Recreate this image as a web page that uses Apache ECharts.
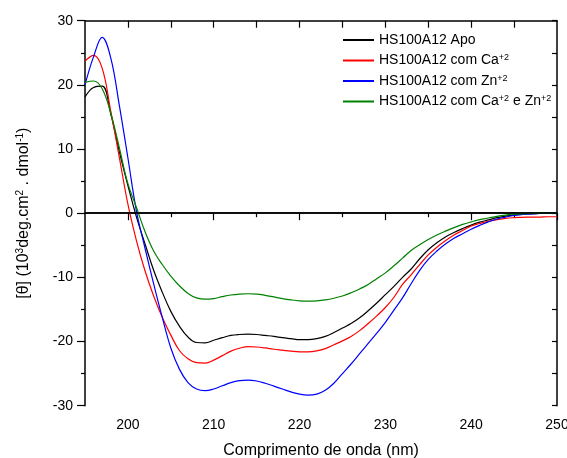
<!DOCTYPE html>
<html>
<head>
<meta charset="utf-8">
<script src="https://cdn.jsdelivr.net/npm/echarts@6/dist/echarts.min.js"></script>
<style>
html,body{margin:0;padding:0;background:#fff;}
#chart{width:567px;height:458px;}
</style>
</head>
<body>
<div id="chart"></div>
<script>
// Wavelengths (nm)
var wavelengths = [195,196,197,198,199,200,201,202,203,204,205,206,207,208,209,210,211,212,213,214,215,216,217,218,219,220,221,222,223,224,225,226,227,228,229,230,231,232,233,234,235,236,237,238,239,240,241,242,243,244,245,246,247,248,249,250];

// Series values ([θ] in 10^3 deg.cm2.dmol-1)
var apo = [18.1,19.6,19.8,15.5,9.6,4.3,-0.6,-4.8,-8.9,-12.3,-15.3,-17.6,-19.3,-20.15,-20.2,-19.8,-19.4,-19.05,-18.9,-18.85,-18.9,-19.05,-19.2,-19.4,-19.55,-19.7,-19.7,-19.55,-19.2,-18.6,-17.9,-17.2,-16.3,-15.2,-14.0,-12.7,-11.4,-10.0,-8.7,-7.1,-5.7,-4.6,-3.7,-3.0,-2.4,-1.85,-1.4,-1.05,-0.7,-0.45,-0.25,-0.15,-0.1,-0.05,0,0];
var ca = [23.7,24.6,22.6,15.9,8.7,1.4,-4.3,-9.0,-12.9,-16.2,-19.0,-21.4,-22.7,-23.3,-23.35,-22.9,-22.2,-21.5,-21.05,-20.8,-20.85,-21.0,-21.2,-21.35,-21.5,-21.6,-21.6,-21.45,-21.1,-20.5,-19.9,-19.2,-18.3,-17.2,-16.0,-14.7,-13.1,-11.1,-9.6,-8.0,-6.5,-5.3,-4.3,-3.4,-2.7,-2.0,-1.6,-1.25,-1.0,-0.8,-0.7,-0.65,-0.6,-0.6,-0.55,-0.55];
var zn = [20.0,24.4,27.4,24.2,16.8,8.6,0.3,-5.5,-11.0,-16.2,-21.0,-24.3,-26.4,-27.4,-27.65,-27.4,-26.9,-26.4,-26.1,-26.0,-26.15,-26.5,-26.95,-27.4,-27.85,-28.2,-28.35,-28.2,-27.6,-26.5,-25.0,-23.5,-21.9,-20.3,-18.7,-17.0,-15.1,-13.2,-11.0,-8.9,-7.2,-5.9,-4.8,-3.9,-3.2,-2.5,-1.9,-1.35,-0.9,-0.6,-0.35,-0.2,-0.1,-0.05,0,0];
var caZn = [20.4,20.6,19.4,15.6,10.2,4.6,0.9,-2.9,-5.9,-8.0,-9.8,-11.3,-12.5,-13.2,-13.4,-13.3,-13.0,-12.75,-12.6,-12.55,-12.6,-12.8,-13.05,-13.3,-13.5,-13.65,-13.7,-13.65,-13.5,-13.25,-12.9,-12.4,-11.8,-11.1,-10.2,-9.3,-8.2,-7.0,-5.8,-4.9,-4.1,-3.4,-2.8,-2.25,-1.75,-1.35,-1.0,-0.75,-0.5,-0.3,-0.15,-0.1,-0.05,0,0,0];

// Names and legend labels
var seriesNames = ['HS100A12 Apo','HS100A12 com Ca+2','HS100A12 com Zn+2','HS100A12 com Ca+2 e Zn+2'];
var legendLabels = ['HS100A12 Apo','HS100A12 com Ca{sup|+2}','HS100A12 com Zn{sup|+2}','HS100A12 com Ca{sup|+2} e Zn{sup|+2}'];
var seriesColors = ['#000000','#ff0000','#0000ff','#008000'];

// Tick values
var xMajorTicks = [200,210,220,230,240,250];
var xMinorTicks = [205,215,225,235,245];
var xTopTicks = [200,205,210,215,220,225,230,235,240,245];

var FONT = "'Liberation Sans', Arial, Helvetica, sans-serif";

function pairs(vals){
  return wavelengths.map(function(w,i){ return [w, vals[i]]; });
}
var allVals = [apo, ca, zn, caZn];

var series = allVals.map(function(v, i){
  var s = {
    name: seriesNames[i],
    type: 'line',
    data: pairs(v),
    xAxisIndex: 0,
    yAxisIndex: 0,
    symbol: 'none',
    smooth: 0.4,
    lineStyle: {color: seriesColors[i], width: 1.2},
    itemStyle: {color: seriesColors[i]},
    z: 3
  };
  if (i === 0) {
    s.markLine = {
      silent: true,
      symbol: ['none','none'],
      label: {show: false},
      lineStyle: {color: '#000', width: 1.5, type: 'solid'},
      data: [{yAxis: 0}],
      animation: false
    };
  }
  return s;
});

var chart = echarts.init(document.getElementById('chart'));
chart.setOption({
  animation: false,
  backgroundColor: '#ffffff',
  grid: {left: 85, right: 10, top: 20.7, bottom: 52.3, containLabel: false, outerBoundsMode: 'none'},
  legend: {
    orient: 'vertical',
    left: 342,
    top: 33,
    padding: 0,
    itemWidth: 31,
    itemHeight: 14,
    itemGap: 6.5,
    data: seriesNames,
    itemStyle: {opacity: 0},
    formatter: function(name){ return legendLabels[seriesNames.indexOf(name)]; },
    textStyle: {
      fontFamily: FONT, fontSize: 14, color: '#000', lineHeight: 14,
      rich: {
        sup: {fontFamily: FONT, fontSize: 9, color: '#000', verticalAlign: 'top', lineHeight: 14}
      }
    }
  },
  xAxis: [
    {
      type: 'value', min: 195, max: 250, position: 'bottom',
      axisLine: {show: true, lineStyle: {color: '#000', width: 1.5}},
      axisTick: {show: true, inside: false, length: 7, customValues: xMajorTicks, lineStyle: {color: '#000', width: 1.2}},
      axisLabel: {show: true, customValues: xMajorTicks, margin: 12, fontFamily: FONT, fontSize: 14, color: '#000'},
      splitLine: {show: false},
      name: 'Comprimento de onda (nm)',
      nameLocation: 'middle',
      nameGap: 37,
      nameTextStyle: {fontFamily: FONT, fontSize: 16, color: '#000'}
    },
    {
      type: 'value', min: 195, max: 250, position: 'bottom',
      axisLine: {show: false},
      axisTick: {show: true, inside: false, length: 4, customValues: xMinorTicks, lineStyle: {color: '#000', width: 1.2}},
      axisLabel: {show: false},
      splitLine: {show: false}
    },
    {
      type: 'value', min: 195, max: 250, position: 'top',
      axisLine: {show: true, lineStyle: {color: '#000', width: 1.5}},
      axisTick: {show: true, inside: true, length: 7, customValues: xTopTicks, lineStyle: {color: '#000', width: 1.2}},
      axisLabel: {show: false},
      splitLine: {show: false}
    }
  ],
  yAxis: [
    {
      type: 'value', min: -30, max: 30, interval: 10, position: 'left',
      axisLine: {show: true, lineStyle: {color: '#000', width: 1.5}},
      axisTick: {show: true, inside: false, length: 8, lineStyle: {color: '#000', width: 1.2}},
      minorTick: {show: true, splitNumber: 2, length: 4, lineStyle: {color: '#000', width: 1.2}},
      axisLabel: {show: true, margin: 12, fontFamily: FONT, fontSize: 14, color: '#000'},
      splitLine: {show: false},
      minorSplitLine: {show: false},
      name: '[θ] (10{sup|3}deg.cm{sup|2} . dmol{sup|-1})',
      nameLocation: 'middle',
      nameGap: 52,
      nameTextStyle: {
        fontFamily: FONT, fontSize: 16, color: '#000', lineHeight: 18,
        rich: {
          sup: {fontFamily: FONT, fontSize: 10, color: '#000', verticalAlign: 'top', lineHeight: 18}
        }
      }
    },
    {
      type: 'value', min: -30, max: 30, interval: 5, position: 'right',
      axisLine: {show: true, lineStyle: {color: '#000', width: 1.5}},
      axisTick: {show: true, inside: true, length: 5, lineStyle: {color: '#000', width: 1.2}},
      axisLabel: {show: false},
      splitLine: {show: false}
    }
  ],
  series: series
});
</script>
</body>
</html>
